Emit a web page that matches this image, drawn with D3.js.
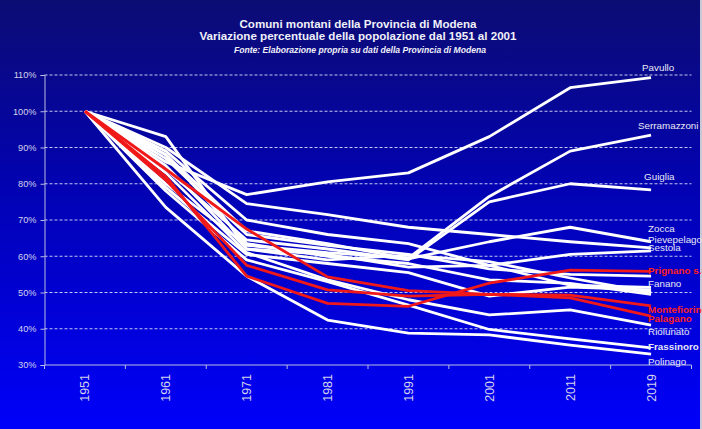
<!DOCTYPE html>
<html>
<head>
<meta charset="utf-8">
<script src="https://cdn.jsdelivr.net/npm/d3@7"></script>
<style>
  html, body { margin: 0; padding: 0; background: #0000c8; }
  svg { display: block; font-family: "Liberation Sans", Arial, sans-serif; }
</style>
</head>
<body>
<svg id="chart" width="702" height="429"></svg>
<script>
// Census years (category axis)
const years = ["1951", "1961", "1971", "1981", "1991", "2001", "2011", "2019"];

// Population as a share of 1951 (%), one array per comune
const pavullo      = [100, 86, 77.0, 80.5, 83.0, 93.0, 106.5, 109.3];
const serramazzoni = [100, 80, 63.0, 61.0, 59.5, 76.5, 89.0, 93.4];
const guiglia      = [100, 84, 64.5, 62.0, 59.0, 75.0, 80.0, 78.3];
const zocca        = [100, 88, 67.0, 63.5, 59.3, 64.0, 68.0, 64.0];
const pievepelago  = [100, 90, 74.5, 71.5, 68.0, 66.0, 64.0, 62.3];
const sestola      = [100, 85, 62.0, 60.5, 57.0, 57.5, 60.5, 61.5];
const fanano       = [100, 87, 66.0, 63.0, 60.5, 56.5, 55.0, 54.5];
const fiumalbo     = [100, 93, 62.0, 59.0, 60.3, 58.5, 54.0, 50.0];
const lamaMocogno  = [100, 89, 70.0, 66.0, 63.5, 57.5, 52.0, 51.4];
const montecreto   = [100, 79, 60.5, 58.0, 55.5, 49.0, 51.5, 50.7];
const montese      = [100, 88, 63.5, 60.0, 58.0, 53.5, 52.5, 49.5];
const riolunato    = [100, 83, 61.0, 53.5, 48.0, 43.8, 45.2, 41.0];
const frassinoro   = [100, 78, 59.0, 53.0, 46.5, 39.8, 37.2, 34.7];
const polinago     = [100, 73.5, 54.5, 42.4, 38.8, 38.3, 35.5, 33.0];
const prignano     = [100, 82, 54.5, 47.0, 46.2, 52.6, 56.2, 55.8];
const montefiorino = [100, 84, 67.5, 54.3, 50.5, 49.5, 49.3, 46.3];
const palagano     = [100, 81, 57.5, 50.7, 49.0, 49.5, 48.5, 43.5];

// Y axis ticks (%)
const yTicks = [30, 40, 50, 60, 70, 80, 90, 100, 110];

// Series list: name, values, highlighted (red), label shown at the end
const series = [
  { name: "Pavullo",       values: pavullo,      red: false, label: true },
  { name: "Serramazzoni",  values: serramazzoni, red: false, label: true },
  { name: "Guiglia",       values: guiglia,      red: false, label: true },
  { name: "Zocca",         values: zocca,        red: false, label: true },
  { name: "Pievepelago",   values: pievepelago,  red: false, label: true },
  { name: "Sestola",       values: sestola,      red: false, label: true },
  { name: "Fanano",        values: fanano,       red: false, label: true },
  { name: "Fiumalbo",      values: fiumalbo,     red: false, label: false },
  { name: "Lama Mocogno",  values: lamaMocogno,  red: false, label: false },
  { name: "Montecreto",    values: montecreto,   red: false, label: false },
  { name: "Montese",       values: montese,      red: false, label: false },
  { name: "Riolunato",     values: riolunato,    red: false, label: true },
  { name: "Frassinoro",    values: frassinoro,   red: false, label: true, bold: true },
  { name: "Polinago",      values: polinago,     red: false, label: true },
  { name: "Prignano s.S.", values: prignano,     red: true,  label: true, bold: true },
  { name: "Montefiorino",  values: montefiorino, red: true,  label: true, bold: true },
  { name: "Palagano",      values: palagano,     red: true,  label: true, bold: true }
];

// Vertical nudges for end labels so they sit clear of the line ends
const labelNudge = {
  "Pavullo": -10, "Serramazzoni": -10, "Guiglia": -13, "Zocca": -13,
  "Pievepelago": -8, "Sestola": -3, "Fanano": 7, "Riolunato": 6,
  "Frassinoro": -1, "Polinago": 7, "Prignano s.S.": -1,
  "Montefiorino": 4, "Palagano": 2
};
const labelShift = { "Pavullo": -6, "Serramazzoni": -10, "Guiglia": -4, "Sestola": 0 };

const W = 702, H = 429;
const svg = d3.select("#chart");

// Background gradient: dark navy at the top to bright blue at the bottom
const defs = svg.append("defs");
const grad = defs.append("linearGradient")
  .attr("id", "bg").attr("x1", 0).attr("y1", 0).attr("x2", 0).attr("y2", 1);
grad.append("stop").attr("offset", "0%").attr("stop-color", "#0c0c74");
grad.append("stop").attr("offset", "45%").attr("stop-color", "#0202b4");
grad.append("stop").attr("offset", "100%").attr("stop-color", "#0000fa");
svg.append("rect").attr("width", W).attr("height", H).attr("fill", "url(#bg)");
svg.append("rect").attr("x", W - 2).attr("y", 0).attr("width", 2).attr("height", H)
  .attr("fill", "#c8c8d8");

const plot = { left: 44.5, right: 691.5, top: 75, bottom: 365 };

const x = d3.scaleBand().domain(years).range([plot.left, plot.right]).padding(0);
const y = d3.scaleLinear().domain([30, 110]).range([plot.bottom, plot.top]);
const cx = d => x(d) + x.bandwidth() / 2;

// Title
const title = svg.append("g").attr("fill", "#f0f0f8").attr("text-anchor", "middle");
title.append("text").attr("x", 358).attr("y", 28)
  .attr("font-size", 11.6).attr("font-weight", "bold")
  .text("Comuni montani della Provincia di Modena");
title.append("text").attr("x", 358).attr("y", 40)
  .attr("font-size", 11.6).attr("font-weight", "bold")
  .text("Variazione percentuale della popolazione  dal 1951 al 2001");
title.append("text").attr("x", 360).attr("y", 52.5)
  .attr("font-size", 8.6).attr("font-weight", "bold").attr("font-style", "italic")
  .text("Fonte: Elaborazione propria su dati della Provincia di Modena");

// Dashed gridlines
svg.append("g").selectAll("line")
  .data(yTicks.filter(t => t > 30))
  .join("line")
  .attr("x1", plot.left).attr("x2", plot.right)
  .attr("y1", d => y(d)).attr("y2", d => y(d))
  .attr("stroke", "#c4c8f0").attr("stroke-width", 1)
  .attr("stroke-dasharray", "3,2");

// Y axis
const yAxis = svg.append("g")
  .attr("transform", `translate(${plot.left},0)`)
  .call(d3.axisLeft(y).tickValues(yTicks).tickSize(4).tickPadding(4)
    .tickFormat(d => d + "%"));
yAxis.select(".domain").attr("stroke", "#b8bce0");
yAxis.selectAll(".tick line").attr("stroke", "#b8bce0");
yAxis.selectAll("text").attr("fill", "#d4d4ea").attr("font-size", 9.2)
  .attr("font-family", "Liberation Sans, Arial, sans-serif");

// X axis: ticks between categories, rotated year labels
const xAxis = svg.append("g").attr("transform", `translate(0,${plot.bottom})`);
xAxis.append("line").attr("x1", plot.left).attr("x2", plot.right)
  .attr("stroke", "#b8bce0").attr("stroke-width", 1);
xAxis.selectAll("line.tk")
  .data(years.concat(["end"]))
  .join("line").attr("class", "tk")
  .attr("x1", (d, i) => plot.left + i * x.bandwidth())
  .attr("x2", (d, i) => plot.left + i * x.bandwidth())
  .attr("y1", 0).attr("y2", 4)
  .attr("stroke", "#b8bce0");
xAxis.selectAll("text")
  .data(years)
  .join("text")
  .attr("transform", d => `translate(${cx(d) + 4.5},${9}) rotate(-90)`)
  .attr("text-anchor", "end")
  .attr("fill", "#d4d4ea").attr("font-size", 12.5)
  .text(d => d);

// Lines
const line = d3.line()
  .x((d, i) => cx(years[i]))
  .y(d => y(d));

const order = series.filter(s => !s.red).concat(series.filter(s => s.red));
svg.append("g").selectAll("path")
  .data(order)
  .join("path")
  .attr("d", s => line(s.values))
  .attr("fill", "none")
  .attr("stroke", s => s.red ? "#f01818" : "#ffffff")
  .attr("stroke-width", 2.8)
  .attr("stroke-linejoin", "round");

// End labels
const lastX = cx(years[years.length - 1]);
svg.append("g").selectAll("text")
  .data(series.filter(s => s.label))
  .join("text")
  .attr("x", s => lastX - 3 + (labelShift[s.name] || 0))
  .attr("y", s => y(s.values[s.values.length - 1]) + 3.5 + (labelNudge[s.name] || 0))
  .attr("font-size", 9.8)
  .attr("font-weight", s => s.bold ? "bold" : "normal")
  .attr("fill", s => s.red ? "#ff2020" : "#e8e8f4")
  .text(s => s.name);
</script>
</body>
</html>
